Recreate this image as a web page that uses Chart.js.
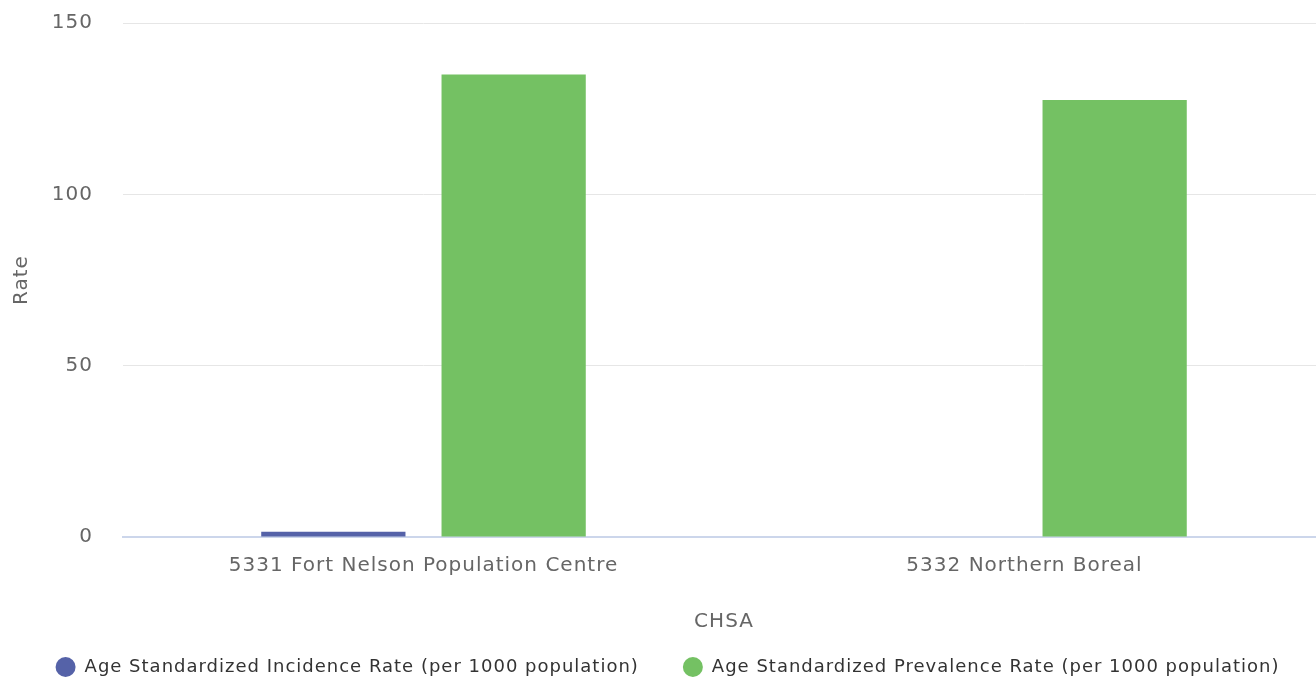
<!DOCTYPE html>
<html>
<head>
<meta charset="utf-8">
<script src="https://cdn.jsdelivr.net/npm/chart.js@4"></script>
<style>
  html, body { margin: 0; padding: 0; background: #fff; }
  #wrap { width: 1316px; height: 680px; position: relative; overflow: hidden; }
  #inner { position: absolute; left: 0; top: -19px; width: 1325px; height: 705px; }
</style>
</head>
<body>
<div id="wrap"><div id="inner"><canvas id="rateChart"></canvas></div></div>
<script>
// --- data ---
const categories = ["5331 Fort Nelson Population Centre", "5332 Northern Boreal"];
const incidenceLabel = "Age Standardized Incidence Rate (per 1000 population)";
const prevalenceLabel = "Age Standardized Prevalence Rate (per 1000 population)";
const incidenceValues = [1.5, null];
const prevalenceValues = [135, 127.5];
const yTicks = [0, 50, 100, 150];

const FONT = "DejaVu Sans";

// slight letter spacing, set on the context before measuring and drawing
const spacingPlugin = {
    id: 'spacing',
    beforeInit: chart => { chart.ctx.letterSpacing = '1px'; },
    beforeLayout: chart => { chart.ctx.letterSpacing = '1px'; },
    beforeDraw: chart => { chart.ctx.letterSpacing = '1px'; }
};

const ctx = document.getElementById('rateChart').getContext('2d');
new Chart(ctx, {
    type: 'bar',
    plugins: [spacingPlugin],
    data: {
        labels: categories,
        datasets: [{
            label: incidenceLabel,
            data: incidenceValues,
            backgroundColor: '#5562a8',
            borderWidth: 0
        }, {
            label: prevalenceLabel,
            data: prevalenceValues,
            backgroundColor: '#74c163',
            borderWidth: 0
        }]
    },
    options: {
        responsive: true,
        maintainAspectRatio: false,
        animation: false,
        categoryPercentage: 0.6,
        barPercentage: 0.8,
        layout: { padding: { left: 10, right: 0, top: 0, bottom: 0 } },
        plugins: {
            legend: {
                position: 'bottom',
                labels: {
                    usePointStyle: true,
                    pointStyle: 'circle',
                    boxHeight: 14,
                    pointStyleWidth: 20,
                    padding: 44,
                    color: '#333',
                    font: { family: FONT, size: 18 }
                }
            },
            tooltip: { enabled: false }
        },
        scales: {
            x: {
                grid: { display: false, drawTicks: false },
                border: { color: '#ccd6eb', width: 2 },
                ticks: { color: '#666', padding: 17, font: { family: FONT, size: 20 } },
                title: { display: true, text: 'CHSA', color: '#666', padding: { top: 15, bottom: -20 }, font: { family: FONT, size: 20 } }
            },
            y: {
                min: 0,
                max: 150,
                afterBuildTicks: s => { s.ticks = yTicks.map(v => ({ value: v })); },
                afterFit: s => { s.width = 113; },
                grid: { color: '#e6e6e6', lineWidth: 1, drawTicks: false },
                border: { display: false },
                ticks: { color: '#666', padding: 30, font: { family: FONT, size: 20 } },
                title: { display: true, text: 'Rate', color: '#666', padding: 0, font: { family: FONT, size: 20 } }
            }
        }
    }
});
</script>
</body>
</html>
